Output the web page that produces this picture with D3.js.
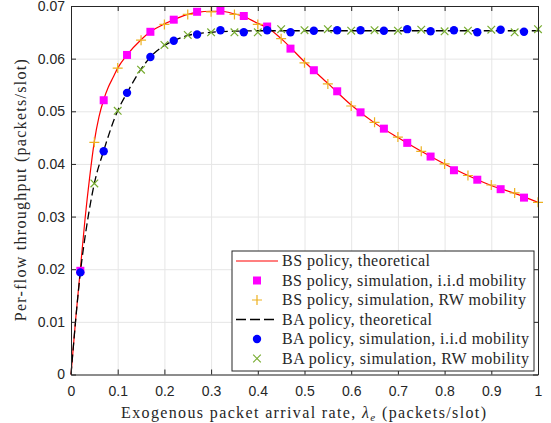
<!DOCTYPE html>
<html>
<head>
<meta charset="utf-8">
<script src="https://cdn.jsdelivr.net/npm/d3@7"></script>
<style>
  body { margin: 0; background: #fff; }
  svg { display: block; }
  .tick text { font-family: "Liberation Sans", Arial, sans-serif; font-size: 14px; fill: #262626; }
  .lbl { font-family: "Liberation Serif", "Times New Roman", serif; fill: #262626; }
</style>
</head>
<body>
<div class="chart"></div>
<script>
// BS policy, theoretical curve
var bsTheoryX = [0, 0.01, 0.02, 0.03, 0.04, 0.05, 0.06, 0.07, 0.08, 0.09, 0.1, 0.12, 0.15, 0.17, 0.2, 0.22, 0.25, 0.27, 0.3, 0.32, 0.35, 0.37, 0.4, 0.42, 0.45, 0.5, 0.55, 0.6, 0.65, 0.7, 0.75, 0.8, 0.85, 0.9, 0.95, 1.0];
var bsTheoryY = [0, 0.0105, 0.0200, 0.0295, 0.0375, 0.0443, 0.0490, 0.0522, 0.0546, 0.0564, 0.0582, 0.0607, 0.0636, 0.0651, 0.0666, 0.0674, 0.0684, 0.0688, 0.0690, 0.0690, 0.0685, 0.0680, 0.0667, 0.0659, 0.0638, 0.0594, 0.0553, 0.0512, 0.0478, 0.0450, 0.0424, 0.0400, 0.0378, 0.0359, 0.0344, 0.0327];

// BA policy, theoretical curve
var baTheoryX = [0, 0.02, 0.035, 0.05, 0.07, 0.1, 0.12, 0.15, 0.17, 0.2, 0.22, 0.25, 0.3, 0.35, 0.4, 0.5, 0.6, 0.7, 0.8, 0.9, 1.0];
var baTheoryY = [0, 0.0193, 0.0290, 0.0363, 0.0425, 0.0501, 0.0535, 0.0580, 0.0603, 0.0625, 0.0634, 0.0644, 0.0650, 0.0652, 0.0653, 0.0653, 0.0653, 0.0653, 0.0653, 0.0653, 0.0653];

// simulations, i.i.d mobility (x = 0.02, 0.07, ... 0.97)
var iidX = [0.02, 0.07, 0.12, 0.17, 0.22, 0.27, 0.32, 0.37, 0.42, 0.47, 0.52, 0.57, 0.62, 0.67, 0.72, 0.77, 0.82, 0.87, 0.92, 0.97];
var bsIidY = [0.0197, 0.0521, 0.0607, 0.0651, 0.0674, 0.0689, 0.0691, 0.0681, 0.0661, 0.0619, 0.0578, 0.0538, 0.0498, 0.0467, 0.0440, 0.0414, 0.0388, 0.0370, 0.0352, 0.0336];
var baIidY = [0.0194, 0.0424, 0.0535, 0.0603, 0.0634, 0.0646, 0.0654, 0.0650, 0.0654, 0.0650, 0.0653, 0.0654, 0.0654, 0.0653, 0.0656, 0.0652, 0.0654, 0.0650, 0.0655, 0.0651];

// simulations, RW mobility (x = 0.05, 0.10, ... 1.00)
var rwX = [0.05, 0.1, 0.15, 0.2, 0.25, 0.3, 0.35, 0.4, 0.45, 0.5, 0.55, 0.6, 0.65, 0.7, 0.75, 0.8, 0.85, 0.9, 0.95, 1.0];
var bsRwY = [0.0441, 0.0582, 0.0635, 0.0665, 0.0684, 0.0689, 0.0684, 0.0665, 0.0638, 0.0592, 0.0552, 0.0510, 0.0479, 0.0451, 0.0424, 0.0400, 0.0378, 0.0360, 0.0345, 0.0327];
var baRwY = [0.0363, 0.0501, 0.0579, 0.0626, 0.0645, 0.0650, 0.0650, 0.0650, 0.0656, 0.0654, 0.0656, 0.0653, 0.0654, 0.0653, 0.0655, 0.0652, 0.0653, 0.0655, 0.0650, 0.0656];

var xTicks = [0, 0.1, 0.2, 0.3, 0.4, 0.5, 0.6, 0.7, 0.8, 0.9, 1];
var yTicks = [0, 0.01, 0.02, 0.03, 0.04, 0.05, 0.06, 0.07];

var legendLabels = [
    "BS policy, theoretical",
    "BS policy, simulation, i.i.d mobility",
    "BS policy, simulation, RW mobility",
    "BA policy, theoretical",
    "BA policy, simulation, i.i.d mobility",
    "BA policy, simulation, RW mobility"
];
// rendered widths of the legend entries in the reference
var legendWidths = [148, 244, 244, 150, 247, 247];

var svgWidth = 551;
var svgHeight = 423;
var margin = {top: 6, right: 13, bottom: 48.5, left: 71};
var width = svgWidth - margin.left - margin.right;
var height = svgHeight - margin.top - margin.bottom;

var svg = d3.select(".chart")
    .append("svg")
    .attr("width", svgWidth)
    .attr("height", svgHeight);

var chartGroup = svg.append("g")
    .attr("transform", `translate(${margin.left}, ${margin.top})`);

var x = d3.scaleLinear().domain([0, 1]).range([0, width]);
var y = d3.scaleLinear().domain([0, 0.07]).range([height, 0]);

// grid
chartGroup.append("g")
    .attr("transform", `translate(0, ${height})`)
    .call(d3.axisBottom(x).tickValues(xTicks).tickSize(-height).tickFormat(""))
    .call(g => g.select(".domain").remove())
    .selectAll("line").attr("stroke", "#e6e6e6");
chartGroup.append("g")
    .call(d3.axisLeft(y).tickValues(yTicks).tickSize(-width).tickFormat(""))
    .call(g => g.select(".domain").remove())
    .selectAll("line").attr("stroke", "#e6e6e6");

// lines
var redLine = d3.line().x(d => x(d[0])).y(d => y(d[1]));
chartGroup.append("path")
    .datum(d3.zip(bsTheoryX, bsTheoryY))
    .attr("d", redLine.curve(d3.curveMonotoneX))
    .attr("fill", "none")
    .attr("stroke", "#ff0000")
    .attr("stroke-width", 1.2);

// markers
function square(g, cx, cy) {
    g.append("rect").attr("x", cx - 4).attr("y", cy - 4).attr("width", 8).attr("height", 8)
        .attr("fill", "#ff00ff");
}
function plus(g, cx, cy) {
    g.append("path").attr("d", `M${cx - 5},${cy}H${cx + 5}M${cx},${cy - 5}V${cy + 5}`)
        .attr("stroke", "#edb120").attr("stroke-width", 1.2).attr("fill", "none");
}
function circle(g, cx, cy) {
    g.append("circle").attr("cx", cx).attr("cy", cy).attr("r", 4.2).attr("fill", "#0000ff");
}
function cross(g, cx, cy) {
    g.append("path").attr("d", `M${cx - 3.8},${cy - 3.8}L${cx + 3.8},${cy + 3.8}M${cx - 3.8},${cy + 3.8}L${cx + 3.8},${cy - 3.8}`)
        .attr("stroke", "#77ac30").attr("stroke-width", 1.2).attr("fill", "none");
}

var sq = chartGroup.append("g");
iidX.forEach((v, i) => square(sq, x(v), y(bsIidY[i])));
var pl = chartGroup.append("g");
rwX.forEach((v, i) => plus(pl, x(v), y(bsRwY[i])));

chartGroup.append("path")
    .datum(d3.zip(baTheoryX, baTheoryY))
    .attr("d", d3.line().x(d => x(d[0])).y(d => y(d[1])).curve(d3.curveMonotoneX))
    .attr("fill", "none")
    .attr("stroke", "#000")
    .attr("stroke-width", 1.3)
    .attr("stroke-dasharray", "8,4");

var ci = chartGroup.append("g");
iidX.forEach((v, i) => circle(ci, x(v), y(baIidY[i])));
var cr = chartGroup.append("g");
rwX.forEach((v, i) => cross(cr, x(v), y(baRwY[i])));

// axes (ticks inward, box on)
function styleAxis(g) {
    g.select(".domain").attr("stroke", "#262626");
    g.selectAll(".tick line").attr("stroke", "#262626");
}
chartGroup.append("g")
    .attr("transform", `translate(0, ${height})`)
    .call(d3.axisBottom(x).tickValues(xTicks).tickSizeInner(-5).tickSizeOuter(0).tickPadding(12).tickFormat(d3.format("")))
    .call(styleAxis);
chartGroup.append("g")
    .call(d3.axisTop(x).tickValues(xTicks).tickSizeInner(-5).tickSizeOuter(0).tickFormat(""))
    .call(styleAxis);
chartGroup.append("g")
    .call(d3.axisLeft(y).tickValues(yTicks).tickSizeInner(-5).tickSizeOuter(0).tickPadding(6).tickFormat(d => d === 0 ? "0" : d3.format(".2f")(d)))
    .call(styleAxis);
chartGroup.append("g")
    .attr("transform", `translate(${width}, 0)`)
    .call(d3.axisRight(y).tickValues(yTicks).tickSizeInner(-5).tickSizeOuter(0).tickFormat(""))
    .call(styleAxis);
chartGroup.selectAll(".domain").attr("stroke-width", 1);

// axis labels
var xLabel = svg.append("text")
    .attr("class", "lbl")
    .attr("x", 121)
    .attr("y", 418)
    .attr("font-size", 16)
    .attr("textLength", 365)
    .attr("lengthAdjust", "spacing");
xLabel.append("tspan").text("Exogenous packet arrival rate, ");
xLabel.append("tspan").attr("font-style", "italic").text("λ");
xLabel.append("tspan").attr("font-style", "italic").attr("font-size", 11).attr("dy", 3).text("e");
xLabel.append("tspan").attr("dy", -3).text(" (packets/slot)");

svg.append("text")
    .attr("class", "lbl")
    .attr("transform", `translate(26, ${margin.top + height / 2}) rotate(-90)`)
    .attr("text-anchor", "middle")
    .attr("font-size", 16)
    .attr("textLength", 262)
    .attr("lengthAdjust", "spacing")
    .text("Per-flow throughput (packets/slot)");

// legend
var legend = svg.append("g").attr("transform", "translate(232, 251)");
legend.append("rect")
    .attr("width", 302).attr("height", 120)
    .attr("fill", "#fff").attr("stroke", "#262626").attr("stroke-width", 1);
var rowY = d3.scalePoint().domain(d3.range(6)).range([10, 107.5]);
legendLabels.forEach((t, i) => {
    var ry = rowY(i);
    var g = legend.append("g");
    if (i === 0) g.append("line").attr("x1", 4).attr("x2", 46).attr("y1", ry).attr("y2", ry).attr("stroke", "#ff0000").attr("stroke-width", 1.2);
    if (i === 1) square(g, 25, ry);
    if (i === 2) plus(g, 25, ry);
    if (i === 3) g.append("line").attr("x1", 4).attr("x2", 46).attr("y1", ry).attr("y2", ry).attr("stroke", "#000").attr("stroke-width", 1.3).attr("stroke-dasharray", "10,4");
    if (i === 4) circle(g, 25, ry);
    if (i === 5) cross(g, 25, ry);
    g.append("text")
        .attr("class", "lbl")
        .attr("x", 50)
        .attr("y", ry + 5)
        .attr("font-size", 16)
        .attr("textLength", legendWidths[i])
        .attr("lengthAdjust", "spacing")
        .text(t);
});
</script>
</body>
</html>
